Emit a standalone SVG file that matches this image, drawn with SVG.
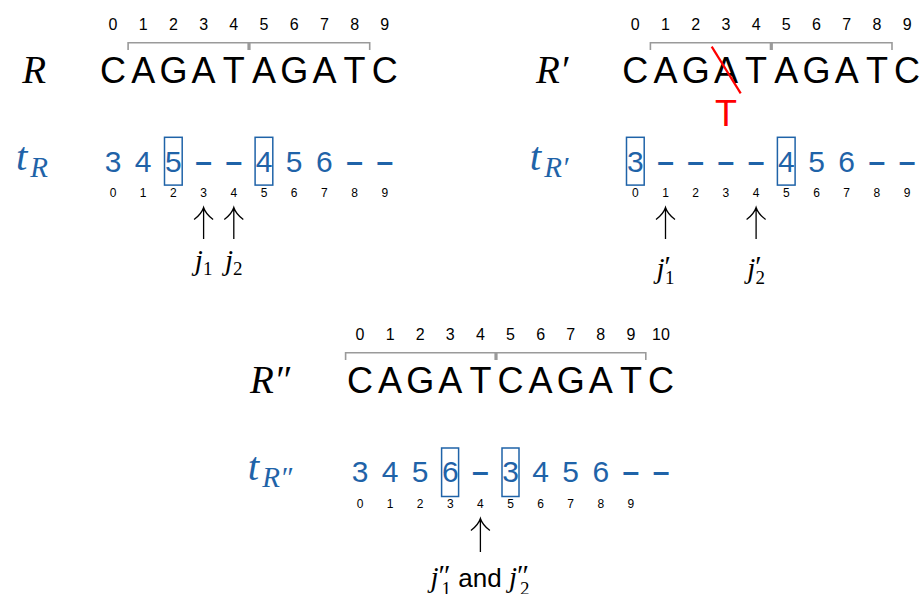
<svg xmlns="http://www.w3.org/2000/svg" width="921" height="594" viewBox="0 0 921 594">
<style>
.idx{font-family:"Liberation Sans",Arial,sans-serif;font-size:16px;fill:#000;text-anchor:middle}
.sidx{font-family:"Liberation Sans",Arial,sans-serif;font-size:12px;fill:#000;text-anchor:middle}
.seq{font-family:"Liberation Sans",Arial,sans-serif;font-size:36px;fill:#000;text-anchor:middle}
.lab{font-family:"Liberation Serif","Times New Roman",serif;font-style:italic;font-size:39px;fill:#000;text-anchor:end}
.tlab{font-family:"Liberation Serif","Times New Roman",serif;font-style:italic;font-size:41px;fill:#1f63a8;text-anchor:end}
.sub{font-size:29px}
.val{font-family:"Liberation Sans",Arial,sans-serif;font-size:30px;fill:#1f63a8;text-anchor:middle}
.d{font-weight:bold}
.box{fill:none;stroke:#1f63a8;stroke-width:1.5}
.br{fill:none;stroke:#9a9a9a;stroke-width:1.6}
.arr{fill:none;stroke:#000;stroke-width:1.3}
.jl{font-family:"Liberation Serif","Times New Roman",serif;font-style:italic;font-size:29px;fill:#000;text-anchor:middle}
.up{font-style:normal}
.red{fill:none;stroke:#ff0000;stroke-width:2.2}
</style>

<g id="panel-R">
  <text class="idx" x="113 143.2 173.4 203.6 233.8 264 294.2 324.4 354.6 384.8" y="30">0123456789</text>
  <path class="br" d="M128.1 50V42.7H248.2V50M249.8 50V42.7H369.7V50"/>
  <text class="seq" x="113 143.2 173.4 203.6 233.8 264 294.2 324.4 354.6 384.8" y="83">CAGATAGATC</text>
  <text class="lab" x="46" y="83">R</text>
  <text class="tlab" x="48" y="170">t<tspan class="sub" dx="3" dy="7">R</tspan></text>
  <text class="val" x="113 143.2 173.4 203.6 233.8 264 294.2 324.4 354.6 384.8" y="172">345<tspan class="d">––</tspan>456<tspan class="d">––</tspan></text>
  <rect class="box" x="164.5" y="137.3" width="17.7" height="47.8"/>
  <rect class="box" x="255.1" y="137.3" width="17.7" height="47.8"/>
  <text class="sidx" x="113 143.2 173.4 203.6 233.8 264 294.2 324.4 354.6 384.8" y="197">0123456789</text>
  <text class="jl" x="203.6" y="270">j<tspan class="up" font-size="19" dy="5">1</tspan></text>
  <text class="jl" x="233.8" y="270">j<tspan class="up" font-size="19" dy="5">2</tspan></text>
</g>

<g id="panel-R-prime" transform="translate(522.3,0)">
  <text class="idx" x="113 143.2 173.4 203.6 233.8 264 294.2 324.4 354.6 384.8" y="30">0123456789</text>
  <path class="br" d="M128.1 50V42.7H248.2V50M249.8 50V42.7H369.7V50"/>
  <text class="seq" x="113 143.2 173.4 203.6 233.8 264 294.2 324.4 354.6 384.8" y="83">CAGATAGATC</text>
  <path class="red" d="M189.4 46.7L218.4 93.3"/>
  <text class="seq" x="203.6" y="126" style="fill:#ff0000">T</text>
  <text class="lab" x="46" y="83">R′</text>
  <text class="tlab" x="46" y="170">t<tspan class="sub" dx="3" dy="7">R′</tspan></text>
  <text class="val" x="113 143.2 173.4 203.6 233.8 264 294.2 324.4 354.6 384.8" y="172">3<tspan class="d">––––</tspan>456<tspan class="d">––</tspan></text>
  <rect class="box" x="104.2" y="137.3" width="17.7" height="47.8"/>
  <rect class="box" x="255.1" y="137.3" width="17.7" height="47.8"/>
  <text class="sidx" x="113 143.2 173.4 203.6 233.8 264 294.2 324.4 354.6 384.8" y="197">0123456789</text>
  <text class="jl" x="143.2" y="278">j<tspan class="up" dy="-2">′</tspan><tspan class="up" font-size="19" dx="-6" dy="8">1</tspan></text>
  <text class="jl" x="233.8" y="278">j<tspan class="up" dy="-2">′</tspan><tspan class="up" font-size="19" dx="-6" dy="8">2</tspan></text>
</g>

<g id="panel-R-dprime" transform="translate(247,310)">
  <text class="idx" x="113 143.1 173.2 203.3 233.4 263.5 293.6 323.7 353.8 383.9" y="30">0123456789</text>
  <text class="idx" x="414" y="30">10</text>
  <path class="br" d="M98.6 50V42.7H248.2V50M249.8 50V42.7H398.8V50"/>
  <text class="seq" x="113 143.1 173.2 203.3 233.4 263.5 293.6 323.7 353.8 383.9 414" y="83">CAGATCAGATC</text>
  <text class="lab" x="43" y="83">R″</text>
  <text class="tlab" x="45" y="170">t<tspan class="sub" dx="3" dy="7">R″</tspan></text>
  <text class="val" x="113 143.1 173.2 203.3 233.4 263.5 293.6 323.7 353.8 383.9 414" y="172">3456<tspan class="d">–</tspan>3456<tspan class="d">––</tspan></text>
  <rect class="box" x="194.6" y="138" width="17" height="48.5"/>
  <rect class="box" x="255" y="138" width="17" height="48.5"/>
  <text class="sidx" x="113 143.1 173.2 203.3 233.4 263.5 293.6 323.7 353.8 383.9" y="198">0123456789</text>
  <text class="jl" x="233" y="277">j<tspan class="up" dy="-2">″</tspan><tspan class="up" font-size="19" dx="-9" dy="10">1</tspan><tspan class="up" font-family="Liberation Sans, Arial, sans-serif" font-size="26" dy="-8"> and </tspan>j<tspan class="up" dy="-2">″</tspan><tspan class="up" font-size="19" dx="-9" dy="10">2</tspan></text>
</g>

<g id="connectors">
  <path class="arr" d="M203.6 239V208.5M194.1 219.5C198.8 216 202 212.5 203.6 207.5C205.2 212.5 208.4 216 213.1 219.5"/>
  <path class="arr" d="M233.8 239V208.5M224.3 219.5C229 216 232.2 212.5 233.8 207.5C235.4 212.5 238.6 216 243.3 219.5"/>
  <path class="arr" d="M665.5 239V208.5M656 219.5C660.7 216 663.9 212.5 665.5 207.5C667.1 212.5 670.3 216 675 219.5"/>
  <path class="arr" d="M756.1 239V208.5M746.6 219.5C751.3 216 754.5 212.5 756.1 207.5C757.7 212.5 760.9 216 765.6 219.5"/>
  <path class="arr" d="M480.4 552V519.5M470.9 530.5C475.6 527 478.8 523.5 480.4 518.5C482 523.5 485.2 527 489.9 530.5"/>
</g>
</svg>
